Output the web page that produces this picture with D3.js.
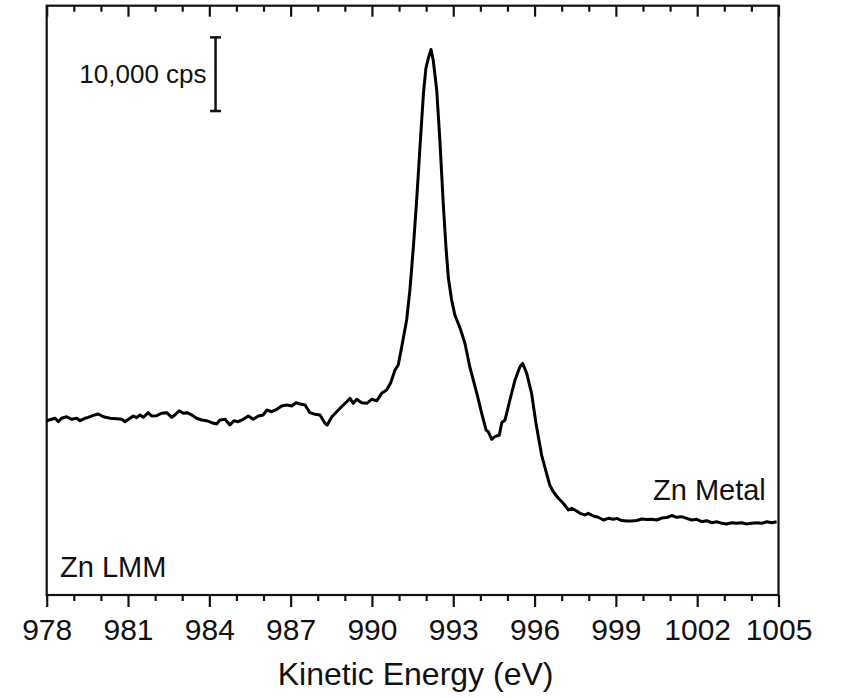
<!DOCTYPE html>
<html>
<head>
<meta charset="utf-8">
<script src="https://cdn.jsdelivr.net/npm/d3@7"></script>
<style>
  body { margin: 0; background: #fff; }
  svg text { font-family: Arial, "Liberation Sans", sans-serif; fill: #111; }
</style>
</head>
<body>
<div id="chart"></div>
<script>
// Zn LMM Auger spectrum, Zn metal
const energy = [
  978.00, 978.18, 978.31, 978.43, 978.55, 978.74, 978.92, 979.11, 979.23, 979.41,
  979.53, 979.72, 979.90, 980.09, 980.34, 980.58, 980.77, 980.89, 981.07, 981.20,
  981.32, 981.44, 981.56, 981.75, 981.87, 982.06, 982.24, 982.43, 982.61, 982.73,
  982.89, 983.04, 983.17, 983.35, 983.53, 983.72, 983.90, 984.09, 984.27, 984.39,
  984.58, 984.76, 984.91, 985.07, 985.25, 985.44, 985.62, 985.81, 985.99, 986.12,
  986.30, 986.49, 986.67, 986.86, 987.04, 987.20, 987.35, 987.53, 987.71, 987.90,
  988.08, 988.27, 988.35, 988.52, 988.70, 988.88, 989.07, 989.19, 989.31, 989.44,
  989.62, 989.81, 989.99, 990.18, 990.36, 990.54, 990.69, 990.85, 990.97, 991.10,
  991.28, 991.40, 991.53, 991.65, 991.77, 991.90, 991.99, 992.08, 992.18, 992.26,
  992.39, 992.51, 992.63, 992.73, 992.82, 992.94, 993.06, 993.25, 993.43, 993.62,
  993.87, 994.05, 994.21, 994.29, 994.42, 994.54, 994.70, 994.79, 994.91, 995.09,
  995.28, 995.46, 995.56, 995.71, 995.89, 996.05, 996.26, 996.56, 996.69, 996.88,
  997.06, 997.25, 997.37, 997.49, 997.68, 997.86, 997.98, 998.17, 998.35, 998.54,
  998.72, 998.91, 999.03, 999.22, 999.40, 999.58, 999.77, 999.95, 1000.14, 1000.32,
  1000.51, 1000.69, 1000.88, 1001.06, 1001.24, 1001.43, 1001.61, 1001.80, 1001.98, 1002.17,
  1002.35, 1002.54, 1002.72, 1002.91, 1003.09, 1003.27, 1003.46, 1003.64, 1003.83, 1004.01,
  1004.20, 1004.38, 1004.57, 1004.75, 1004.93
];
const counts = [
  23660, 23850, 23990, 23530, 23990, 24200, 23850, 23990, 23660, 23990,
  24120, 24390, 24570, 24200, 23990, 23930, 23850, 23530, 23990, 24300,
  24070, 24440, 24120, 24750, 24300, 24340, 24670, 24750, 24120, 24440,
  25020, 24670, 24750, 24440, 23990, 23760, 23660, 23390, 23210, 23760,
  23850, 23080, 23660, 23530, 23850, 24300, 23850, 24300, 24440, 25110,
  24880, 25210, 25660, 25790, 25660, 26100, 25930, 25790, 24750, 24530,
  24440, 23310, 23080, 24200, 24880, 25560, 26240, 26700, 26020, 26570,
  26100, 26020, 26570, 26380, 27380, 27830, 28780, 30540, 31220, 33710,
  37330, 41400, 47280, 53620, 60680, 68110, 71500, 72860, 74050, 72630,
  68550, 61500, 53170, 47280, 43030, 40050, 38010, 36250, 34170, 30820,
  27380, 24670, 22400, 22170, 21140, 21490, 21720, 23390, 23760, 26470,
  29190, 30990, 31450, 30100, 27380, 23350, 19000, 14930, 14020, 13130,
  12450, 11540, 11770, 11540, 11090, 10860, 11090, 10720, 10550, 10180,
  10410, 10280, 10410, 10110, 10050, 10050, 10110, 10320, 10250, 10280,
  10180, 10450, 10520, 10790, 10550, 10630, 10410, 10180, 10280, 9950,
  10090, 9810, 9950, 9730, 9640, 9810, 9730, 9810, 9640, 9730,
  9810, 9730, 9950, 9810, 9950
];

const majorTicks = [978, 981, 984, 987, 990, 993, 996, 999, 1002, 1005];
const minorTicks = d3.range(978, 1006).filter(v => !majorTicks.includes(v));

const xLabel = "Kinetic Energy (eV)";
const scaleBarCps = 10000;   // length of the scale bar
const scaleBarBase = 65700;  // where the bar starts
const scaleBarAt = 984.23;   // energy where the bar sits

const width = 841,
  height = 698;
const margin = { top: 5.7, right: 62.5, bottom: 103, left: 46.7 };
const innerW = width - margin.left - margin.right,
  innerH = height - margin.top - margin.bottom;

const data = energy.map((e, i) => ({ e: e, c: counts[i] }));

const x = d3.scaleLinear().domain([978, 1005]).range([0, innerW]);
const y = d3.scaleLinear().domain([0, 80000]).range([innerH, 0]);

const svg = d3.select("#chart")
  .append("svg")
  .attr("width", width)
  .attr("height", height);

const g = svg.append("g")
  .attr("transform", "translate(" + margin.left + "," + margin.top + ")");

// bottom axis, ticks outside
const bottomAxis = g.append("g")
  .attr("transform", "translate(0," + innerH + ")")
  .call(d3.axisBottom(x).tickValues(majorTicks).tickSize(12).tickFormat(d3.format("d")));
bottomAxis.select(".domain").remove();
bottomAxis.selectAll("line").attr("stroke", "#111").attr("stroke-width", 2.2);
bottomAxis.selectAll("text")
  .attr("y", 45)
  .attr("dy", null)
  .style("font-size", "30px");

const bottomMinor = g.append("g")
  .attr("transform", "translate(0," + innerH + ")")
  .call(d3.axisBottom(x).tickValues(minorTicks).tickSize(6).tickFormat(""));
bottomMinor.select(".domain").remove();
bottomMinor.selectAll("line").attr("stroke", "#111").attr("stroke-width", 2.2);

// top axis, ticks inside
const topAxis = g.append("g")
  .call(d3.axisTop(x).tickValues(majorTicks).tickSize(-11).tickFormat(""));
topAxis.select(".domain").remove();
topAxis.selectAll("line").attr("stroke", "#111").attr("stroke-width", 2.2);

const topMinor = g.append("g")
  .call(d3.axisTop(x).tickValues(minorTicks).tickSize(-6).tickFormat(""));
topMinor.select(".domain").remove();
topMinor.selectAll("line").attr("stroke", "#111").attr("stroke-width", 2.2);

// frame
g.append("rect")
  .attr("width", innerW)
  .attr("height", innerH)
  .attr("fill", "none")
  .attr("stroke", "#111")
  .attr("stroke-width", 2.2);

// spectrum
const line = d3.line()
  .x(d => x(d.e))
  .y(d => y(d.c))
  .curve(d3.curveLinear);

g.append("path")
  .datum(data)
  .attr("fill", "none")
  .attr("stroke", "#000")
  .attr("stroke-width", 3)
  .attr("stroke-linejoin", "round")
  .attr("d", line);

// scale bar
const sbX = x(scaleBarAt),
  sbTop = y(scaleBarBase + scaleBarCps),
  sbBot = y(scaleBarBase);
const sb = g.append("g").attr("stroke", "#111").attr("stroke-width", 2.5);
sb.append("line").attr("x1", sbX).attr("x2", sbX).attr("y1", sbTop).attr("y2", sbBot);
sb.append("line").attr("x1", sbX - 5.5).attr("x2", sbX + 5.5).attr("y1", sbTop).attr("y2", sbTop);
sb.append("line").attr("x1", sbX - 5.5).attr("x2", sbX + 5.5).attr("y1", sbBot).attr("y2", sbBot);

g.append("text")
  .attr("x", sbX - 9)
  .attr("y", (sbTop + sbBot) / 2 + 9)
  .attr("text-anchor", "end")
  .style("font-size", "26px")
  .text("10,000 cps");

// labels
g.append("text")
  .attr("x", 60 - margin.left)
  .attr("y", 577 - margin.top)
  .style("font-size", "29px")
  .text("Zn LMM");

g.append("text")
  .attr("x", 653 - margin.left)
  .attr("y", 500 - margin.top)
  .style("font-size", "29px")
  .text("Zn Metal");

svg.append("text")
  .attr("x", margin.left + innerW / 2 + 3)
  .attr("y", 685)
  .attr("text-anchor", "middle")
  .style("font-size", "32px")
  .text(xLabel);
</script>
</body>
</html>
